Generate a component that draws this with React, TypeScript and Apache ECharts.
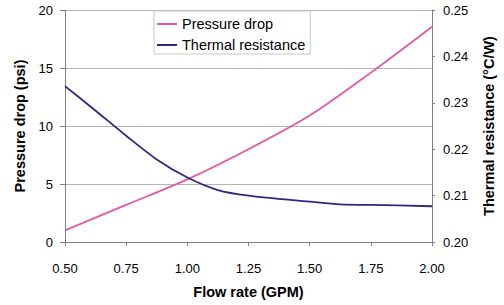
import React, { useEffect, useRef } from "react";
import * as echarts from "echarts";

const flowRate = [0.5, 0.75, 1.0, 1.25, 1.5, 1.75, 2.0];
const pressureDrop = [1.0, 3.2, 5.4, 8.0, 10.9, 14.6, 18.56];
const thermalFlow = [0.5, 0.625, 0.75, 0.875, 1.0, 1.125, 1.25, 1.5, 1.625, 1.75, 2.0];
const thermalResistance = [0.2336, 0.2283, 0.2229, 0.2178, 0.2139, 0.2112, 0.21, 0.2087, 0.2081, 0.208, 0.2077];

const FONT = "'Liberation Sans', Arial, sans-serif";

export default function App() {
  const ref = useRef<HTMLDivElement>(null);
  useEffect(() => {
    if (!ref.current) return;
    const chart = echarts.init(ref.current, undefined, { renderer: "svg" });
    const axisLine = { show: true, lineStyle: { color: "#808080", width: 1 } };
    chart.setOption({
      animation: false,
      textStyle: { fontFamily: FONT },
      grid: { left: 65, right: 72, top: 10, bottom: 63, containLabel: false },
      legend: {
        orient: "vertical",
        left: 154,
        top: 11,
        padding: [5, 5, 1, 3],
        itemGap: 5,
        itemWidth: 20,
        itemHeight: 2,
        icon: "rect",
        backgroundColor: "#ffffff",
        borderColor: "#c8c8c8",
        borderWidth: 1,
        borderRadius: 0,
        textStyle: { fontFamily: FONT, fontSize: 14.5, color: "#000", lineHeight: 16 },
        data: ["Pressure drop", "Thermal resistance"],
      },
      xAxis: {
        type: "value",
        min: 0.5,
        max: 2.0,
        interval: 0.25,
        name: "Flow rate (GPM)",
        nameLocation: "middle",
        nameGap: 42,
        nameTextStyle: { fontFamily: FONT, fontSize: 14.5, fontWeight: "bold", color: "#000" },
        axisLine,
        axisTick: { show: true, inside: false, length: 4, lineStyle: { color: "#808080" } },
        axisLabel: { fontFamily: FONT, fontSize: 13, color: "#000", margin: 20, formatter: (v: number) => v.toFixed(2) },
        splitLine: { show: false },
      },
      yAxis: [
        {
          type: "value",
          min: 0,
          max: 20,
          interval: 5,
          position: "left",
          name: "Pressure drop (psi)",
          nameLocation: "middle",
          nameRotate: 90,
          nameGap: 34,
          nameTextStyle: { fontFamily: FONT, fontSize: 14.5, fontWeight: "bold", color: "#000" },
          axisLine,
          axisTick: { show: true, inside: false, length: 5, lineStyle: { color: "#808080" } },
          axisLabel: { fontFamily: FONT, fontSize: 13, color: "#000", margin: 12 },
          splitLine: { show: true, lineStyle: { color: "#b4b4b4", width: 1 } },
        },
        {
          type: "value",
          min: 0.2,
          max: 0.25,
          interval: 0.01,
          position: "right",
          name: "Thermal resistance (°C/W)",
          nameLocation: "middle",
          nameRotate: 90,
          nameGap: 49,
          nameTextStyle: { fontFamily: FONT, fontSize: 14.5, fontWeight: "bold", color: "#000" },
          axisLine,
          axisTick: { show: true, inside: false, length: 3, lineStyle: { color: "#808080" } },
          axisLabel: { fontFamily: FONT, fontSize: 13, color: "#000", margin: 11, formatter: (v: number) => v.toFixed(2) },
          splitLine: { show: false },
        },
      ],
      series: [
        {
          name: "Pressure drop",
          type: "line",
          yAxisIndex: 0,
          smooth: 0.3,
          symbol: "none",
          showSymbol: false,
          color: "#e05aa8",
          lineStyle: { color: "#e05aa8", width: 1.8 },
          data: flowRate.map((x, i) => [x, pressureDrop[i]]),
        },
        {
          name: "Thermal resistance",
          type: "line",
          yAxisIndex: 1,
          smooth: 0.3,
          symbol: "none",
          showSymbol: false,
          color: "#2a2a82",
          lineStyle: { color: "#2a2a82", width: 1.8 },
          data: thermalFlow.map((x, i) => [x, thermalResistance[i]]),
        },
      ],
    });
    return () => chart.dispose();
  }, []);
  return <div ref={ref} style={{ width: 504, height: 305, position: "absolute", left: 0, top: 0 }} />;
}
